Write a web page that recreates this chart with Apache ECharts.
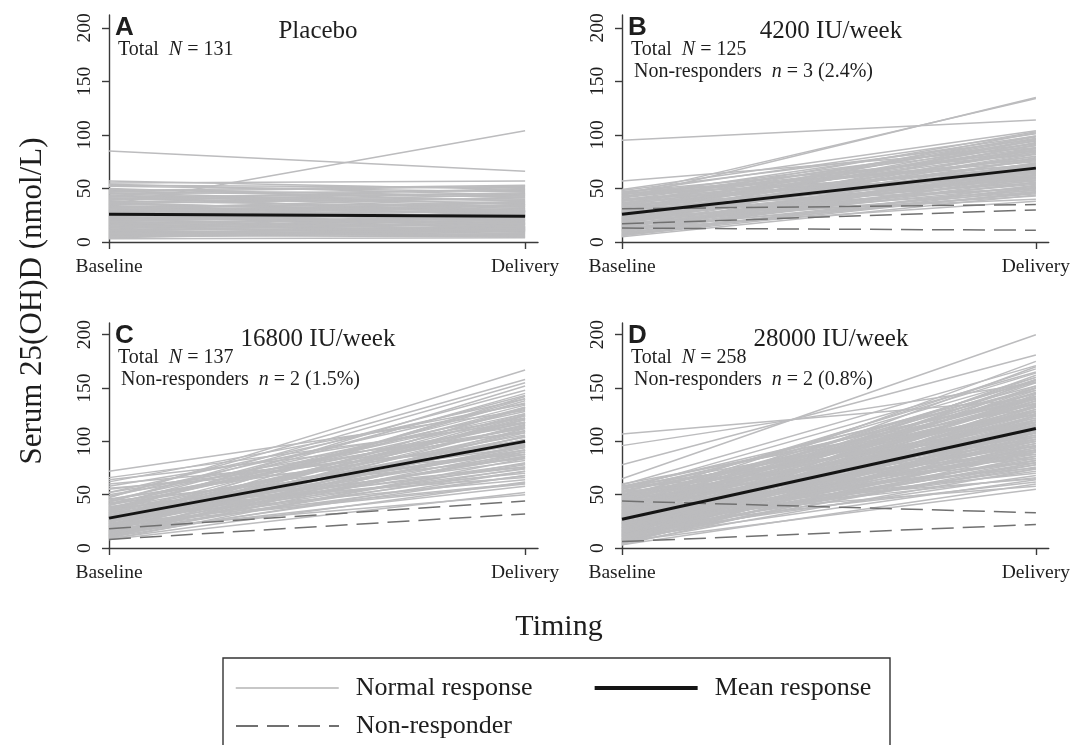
<!DOCTYPE html>
<html>
<head>
<meta charset="utf-8">
<script src="https://cdn.jsdelivr.net/npm/echarts@6/dist/echarts.min.js"></script>
<style>
  html, body { margin: 0; padding: 0; background: #fff; }
  #main { width: 1073px; height: 745px; }
</style>
</head>
<body>
<div id="main"></div>
<script>
// 数据：每个受试者 [基线, 分娩时] 血清 25(OH)D (nmol/L)
const timing = ['Baseline', 'Delivery']
const yTicks = [0, 50, 100, 150, 200]

const panelLetters = ['A', 'B', 'C', 'D']
const panelTitles = ['Placebo', '4200 IU/week', '16800 IU/week', '28000 IU/week']
const totalN = [131, 125, 137, 258]
const nonRespN = [null, 3, 2, 2]
const nonRespPct = [null, '2.4%', '1.5%', '0.8%']

// 平均值
const meanA = [26, 24]
const meanB = [26, 69]
const meanC = [28, 100]
const meanD = [27, 112]

// 无应答者
const nonA = []
const nonB = [[31, 35], [17, 30], [13, 11]]
const nonC = [[18, 44], [8, 32]]
const nonD = [[44, 33], [6, 22]]

// 正常应答
const normA = [[85,66],[35,104],[57,49],[55,57],[54,44],[53,51],[50,38],[48,53],[47,42],[46,35],[45,48],[44,31],[43,40],[42,45],[41,28],[40,37],[39,46],[38,33],[37,25],[36,41],[35,30],[34,22],[33,36],[32,27],[31,19],[30,34],[30,24],[29,15],[28,32],[27,21],[27,29],[26,17],[25,38],[25,23],[24,13],[23,26],[22,20],[22,31],[21,11],[20,18],[20,27],[19,14],[18,22],[17,9],[17,16],[16,25],[15,12],[15,20],[14,8],[13,17],[12,10],[12,29],[11,14],[10,7],[10,19],[9,12],[8,6],[8,15],[7,10],[6,5],[6,13],[5,8],[4,11],[3,4],[52,47],[49,43],[11,24],[19,35],[33,18],[43,26],
  [28,20],[21,30],[18,12],[14,21],[9,5],[7,16],[24,35],[31,42],[36,28],[40,50],[45,33],[29,37],[26,14],[16,9],[13,24],[37,44],[23,17],[19,28],[11,6],[5,13],[33,29],[41,39],[47,52],[27,34],[8,11]]
const normB = [[95,114],[41,135],[44,134],[57,88],[49,104],[48,96],[47,82],[46,101],[45,75],[44,92],[43,68],[42,99],[41,85],[40,62],[39,94],[38,78],[37,70],[36,103],[35,58],[34,88],[33,73],[32,64],[31,97],[30,55],[30,80],[29,69],[28,90],[27,60],[27,76],[26,51],[25,84],[25,66],[24,57],[23,93],[22,72],[22,48],[21,63],[20,86],[20,54],[19,77],[18,61],[17,47],[17,82],[16,67],[15,52],[15,74],[14,59],[13,45],[13,88],[12,65],[11,50],[11,71],[10,56],[9,46],[9,79],[8,62],[7,49],[7,68],[6,53],[5,44],[24,40],[12,38],[35,98],[28,102],[18,91],[40,70],[46,60],[33,50],[20,43],[10,58],
  [38,86],[26,71],[21,95],[14,66],[32,84],[43,77],[16,55],[29,92],[36,66],[23,62],[19,83],[11,60],[8,51],[42,90],[34,60],[27,99],[13,73],[30,87],[47,72],[22,80],[6,47],[39,65],[25,96],[15,63],[10,69]]
const normC = [[72,129],[47,167],[66,118],[64,108],[62,135],[60,96],[58,122],[56,88],[52,140],[50,112],[48,158],[46,101],[45,128],[44,84],[43,155],[42,117],[41,95],[40,143],[39,76],[38,124],[37,106],[36,90],[35,145],[34,113],[33,70],[32,132],[31,98],[30,82],[30,120],[29,104],[28,64],[27,138],[26,92],[25,110],[25,74],[24,126],[23,86],[22,100],[21,60],[21,115],[20,94],[19,131],[18,78],[18,108],[17,68],[16,121],[15,88],[15,102],[14,58],[13,116],[12,80],[12,97],[11,124],[10,72],[10,90],[9,62],[9,112],[8,84],[8,52],[14,96],[20,142],[26,79],[33,152],[38,66],[17,50],[11,105],[28,118],[23,61],[36,134],[55,99],
  [37,130],[29,88],[45,110],[22,122],[14,75],[33,100],[41,126],[19,86],[26,140],[12,68],[31,114],[48,136],[35,92],[24,104],[16,132],[40,118],[20,72],[27,95],[10,110],[43,148],[30,76],[18,125],[52,115],[25,85],[13,92]]
const normD = [[107,140],[96,155],[78,181],[65,200],[60,132],[59,171],[58,110],[57,148],[56,95],[55,165],[54,125],[53,88],[52,152],[51,118],[50,140],[49,102],[48,160],[47,128],[46,80],[45,145],[44,112],[43,135],[42,92],[41,157],[40,120],[39,75],[38,142],[37,106],[36,130],[35,86],[35,150],[34,115],[33,98],[32,175],[32,126],[31,70],[30,138],[30,108],[29,90],[28,146],[28,122],[27,82],[27,100],[26,133],[25,66],[25,155],[24,114],[24,94],[23,140],[23,78],[22,124],[22,104],[21,162],[21,88],[20,130],[20,72],[19,110],[19,148],[18,96],[18,62],[17,136],[17,118],[16,84],[16,152],[15,102],[15,128],[14,76],[14,142],[13,92],[13,116],[12,68],[12,134],[11,106],[11,158],[10,86],[10,124],[9,98],[9,64],[8,144],[8,112],[7,80],[7,130],[6,94],[6,55],[5,120],[5,74],[4,108],[4,138],[3,90],[3,60],[42,168],[38,102],[50,84],[46,150],[34,65],[26,170],[28,58],[40,135],[36,96],[53,128],[56,112],[31,145],[24,82],[19,126],[15,90],[12,100],[47,164],[44,122],[33,114],[22,138],[16,108],[10,118],[8,92],[21,74],[29,160],[37,140],[45,96],[39,118],[52,104],[58,140],
  [41,128],[34,150],[27,116],[20,96],[14,124],[9,104],[48,136],[55,142],[30,92],[23,108],[17,80],[11,134],[6,86],[43,100],[37,158],[26,124],[19,140],[12,82],[44,145],[50,118],[32,100],[25,128],[18,114],[13,150],[8,78],[5,96],[39,108],[35,132],[29,118],[22,90],[16,132],[10,110],[57,126],[47,110],[42,142],[36,120],[31,156],[24,100],[15,116],[7,102]]

const panels = [
  { norm: normA, non: nonA, mean: meanA },
  { norm: normB, non: nonB, mean: meanB },
  { norm: normC, non: nonC, mean: meanC },
  { norm: normD, non: nonD, mean: meanD }
]

// 版面
const grids = [
  { left: 109, top: 15, width: 429, height: 227 },
  { left: 622, top: 15, width: 429, height: 227 },
  { left: 109, top: 323, width: 429, height: 225 },
  { left: 622, top: 323, width: 429, height: 225 }
]
const yMax = [212, 212, 211, 211]
const serif = 'Liberation Serif'
const axisColor = '#3a3a3a'
const textColor = '#1e1e1e'
const grayLine = '#bcbcbe'

const chart = echarts.init(document.getElementById('main'))

const xAxes = grids.map((g, i) => ({
  type: 'value',
  gridIndex: i,
  min: 0,
  max: 1.031,
  splitLine: { show: false },
  axisLine: { show: true, onZero: false, lineStyle: { color: axisColor, width: 1.4 } },
  axisTick: { show: true, length: 7, customValues: [0, 1], lineStyle: { color: axisColor, width: 1.4 } },
  axisLabel: {
    customValues: [0, 1],
    formatter: v => timing[Math.round(v)],
    fontFamily: serif, fontSize: 19.5, color: textColor, margin: 15
  }
}))

const yAxes = grids.map((g, i) => ({
  type: 'value',
  gridIndex: i,
  min: 0,
  max: yMax[i],
  interval: 50,
  splitLine: { show: false },
  axisLine: { show: true, onZero: false, lineStyle: { color: axisColor, width: 1.4 } },
  axisTick: { show: true, length: 7, customValues: yTicks, lineStyle: { color: axisColor, width: 1.4 } },
  axisLabel: {
    customValues: yTicks,
    rotate: 90,
    fontFamily: serif, fontSize: 19.5, color: textColor, margin: 14
  }
}))

const series = []
panels.forEach((p, i) => {
  p.norm.forEach(d => {
    series.push({
      name: 'Normal response', type: 'line', xAxisIndex: i, yAxisIndex: i,
      data: [[0, d[0]], [1, d[1]]], symbol: 'none', silent: true,
      lineStyle: { color: grayLine, width: 1.5 }, z: 2
    })
  })
  p.non.forEach(d => {
    series.push({
      name: 'Non-responder', type: 'line', xAxisIndex: i, yAxisIndex: i,
      data: [[0, d[0]], [1, d[1]]], symbol: 'none', silent: true,
      lineStyle: { color: '#707070', width: 1.5, type: [22, 9] }, z: 3
    })
  })
  series.push({
    name: 'Mean response', type: 'line', xAxisIndex: i, yAxisIndex: i,
    data: [[0, p.mean[0]], [1, p.mean[1]]], symbol: 'none', silent: true,
    lineStyle: { color: '#151515', width: 3 }, z: 4
  })
})

// 文字
const graphics = []
grids.forEach((g, i) => {
  graphics.push({
    type: 'text', x: g.left + 6, y: g.top + 13,
    style: { text: panelLetters[i], font: 'bold 26px "Liberation Sans"', fill: textColor, verticalAlign: 'middle' }
  })
  graphics.push({
    type: 'text', x: g.left + 209, y: g.top + 16,
    style: { text: panelTitles[i], font: '25px "Liberation Serif"', fill: textColor, align: 'center', verticalAlign: 'middle' }
  })
  graphics.push({
    type: 'text', x: g.left + 9, y: g.top + 35,
    style: {
      text: 'Total  {i|N} = ' + totalN[i],
      font: '20px "Liberation Serif"', fill: textColor, verticalAlign: 'middle',
      rich: { i: { font: 'italic 20px "Liberation Serif"', fill: textColor } }
    }
  })
  if (nonRespN[i] !== null) {
    graphics.push({
      type: 'text', x: g.left + 12, y: g.top + 57,
      style: {
        text: 'Non-responders  {i|n} = ' + nonRespN[i] + ' (' + nonRespPct[i] + ')',
        font: '20px "Liberation Serif"', fill: textColor, verticalAlign: 'middle',
        rich: { i: { font: 'italic 20px "Liberation Serif"', fill: textColor } }
      }
    })
  }
})
graphics.push({
  type: 'text', x: 33, y: 301, rotation: Math.PI / 2,
  style: { text: 'Serum 25(OH)D (nmol/L)', font: '31px "Liberation Serif"', fill: textColor, align: 'center', verticalAlign: 'middle' }
})
graphics.push({
  type: 'text', x: 559, y: 627,
  style: { text: 'Timing', font: '30px "Liberation Serif"', fill: textColor, align: 'center', verticalAlign: 'middle' }
})
graphics.push({
  type: 'rect', shape: { x: 223, y: 658, width: 667, height: 100 },
  style: { fill: 'none', stroke: '#333', lineWidth: 1.4 }, silent: true
})

const legendText = { fontFamily: serif, fontSize: 26, color: textColor, padding: [0, 0, 0, 12] }
const noSymbol = { opacity: 0 }

chart.setOption({
  animation: false,
  backgroundColor: '#fff',
  grid: grids,
  xAxis: xAxes,
  yAxis: yAxes,
  legend: [
    {
      data: [
        { name: 'Normal response', itemStyle: noSymbol, lineStyle: { color: '#b4b4b4', width: 1.5 } },
        { name: 'Mean response', itemStyle: noSymbol, lineStyle: { color: '#151515', width: 4 } }
      ],
      left: 230, top: 670,
      itemWidth: 103, itemHeight: 16, itemGap: 60, textStyle: legendText, selectedMode: false
    },
    {
      data: [
        { name: 'Non-responder', itemStyle: noSymbol, lineStyle: { color: '#707070', width: 2, type: [22, 9] } }
      ],
      left: 230, top: 708,
      itemWidth: 103, itemHeight: 16, textStyle: legendText, selectedMode: false
    }
  ],
  graphic: graphics,
  series: series
})
</script>
</body>
</html>
